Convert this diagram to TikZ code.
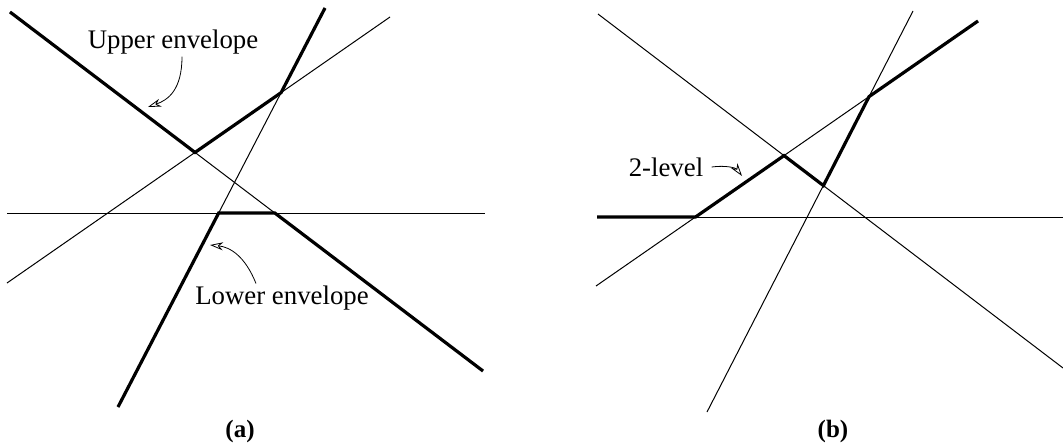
\documentclass[tikz,border=0pt]{standalone}
\usepackage{fontspec}
\setmainfont{Liberation Serif}
\usetikzlibrary{arrows.meta}

\begin{document}
\begin{tikzpicture}[
    x=0.5pt, y=-0.5pt,
    thinline/.style={line width=0.5pt},
    envline/.style={line width=1.6pt, line join=miter},
    lbl/.style={font=\fontsize{13.4}{16}\selectfont, inner sep=1pt},
    captxt/.style={font=\fontsize{12.5}{15}\selectfont\bfseries, inner sep=1pt},
    pointer/.style={line width=0.4pt, -{Stealth[open, length=6.5pt, width=4pt, inset=2pt]}},
  ]
  \useasboundingbox (0,0) rectangle (1063,445);

  % (a) four lines
  \coordinate (a1s) at (10,12);   \coordinate (a1e) at (483,371);
  \coordinate (a2s) at (118,407); \coordinate (a2e) at (325,8);
  \coordinate (a3s) at (7,283);   \coordinate (a3e) at (390,17);
  \coordinate (a4s) at (7,213);   \coordinate (a4e) at (485,213);
  \draw[thinline] (a1s) -- (a1e);
  \draw[thinline] (a2s) -- (a2e);
  \draw[thinline] (a3s) -- (a3e);
  \draw[thinline] (a4s) -- (a4e);

  \coordinate (ua) at (intersection of a1s--a1e and a3s--a3e);
  \coordinate (ub) at (intersection of a3s--a3e and a2s--a2e);
  \coordinate (la) at (intersection of a2s--a2e and a4s--a4e);
  \coordinate (lb) at (intersection of a1s--a1e and a4s--a4e);

  \draw[envline] (a1s) -- (ua) -- (ub) -- (a2e);
  \draw[envline] (a2s) -- (la) -- (lb) -- (a1e);

  \node[lbl] (upperlbl) at (173,42) {Upper envelope};
  \node[lbl] (lowerlbl) at (282,298) {Lower envelope};
  \coordinate (uptip) at (148,107);
  \coordinate (lowtip) at (210,245);
  \draw[pointer] ([xshift=4.5pt]upperlbl.south) .. controls (182,90) and (168,100) .. (uptip);
  \draw[pointer] ([xshift=-13pt]lowerlbl.north) .. controls (245,256) and (230,247) .. (lowtip);

  \node[captxt] (capa) at (240,431) {(a)};

  % (b) four lines
  \coordinate (b1s) at (598,14);  \coordinate (b1e) at (1063,368);
  \coordinate (b2s) at (707,412); \coordinate (b2e) at (913,11);
  \coordinate (b3s) at (596,286); \coordinate (b3e) at (978,21);
  \coordinate (b4s) at (597,217); \coordinate (b4e) at (1063,217);
  \draw[thinline] (b1s) -- (b1e);
  \draw[thinline] (b2s) -- (b2e);
  \draw[thinline] (b3s) -- (b3e);
  \draw[thinline] (b4s) -- (b4e);

  \coordinate (va) at (intersection of b3s--b3e and b4s--b4e);
  \coordinate (vb) at (intersection of b1s--b1e and b3s--b3e);
  \coordinate (vc) at (intersection of b1s--b1e and b2s--b2e);
  \coordinate (vd) at (intersection of b3s--b3e and b2s--b2e);

  \draw[envline] (b4s) -- (va) -- (vb) -- (vc) -- (vd) -- (b3e);

  \node[lbl] (levellbl) at (666,167) {2-level};
  \coordinate (leveltip) at (742,176);
  \draw[pointer] ([xshift=3pt]levellbl.east) .. controls (726,165) and (736,168) .. (leveltip);

  \node[captxt] (capb) at (833,431) {(b)};
\end{tikzpicture}
\end{document}
